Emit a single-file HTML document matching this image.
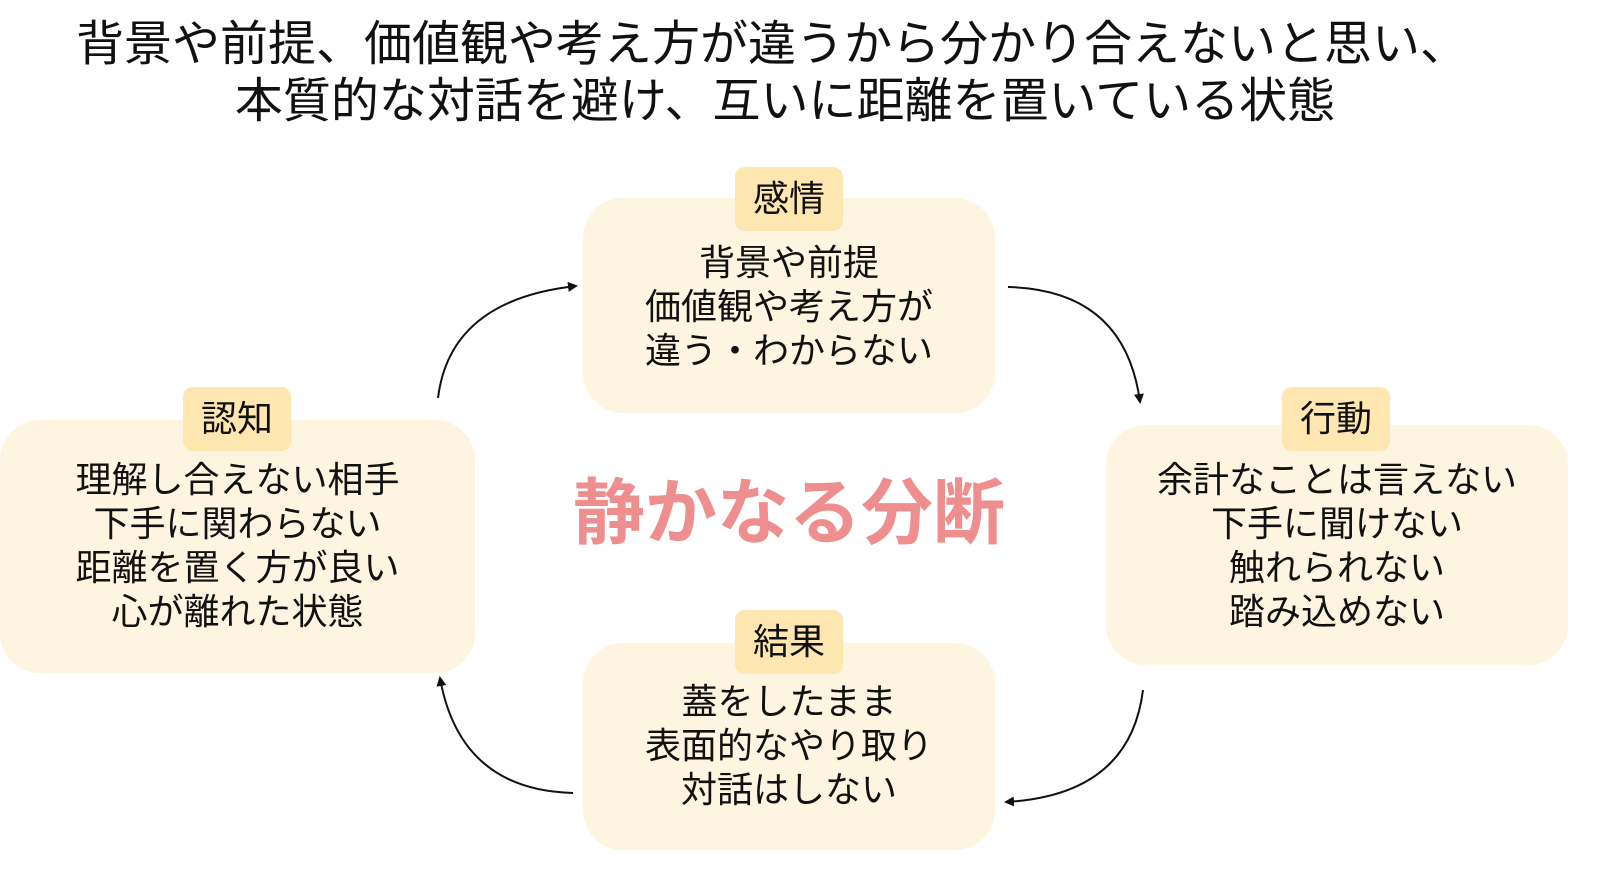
<!DOCTYPE html>
<html><head><meta charset="utf-8"><style>
body{margin:0;width:1606px;height:871px;background:#fff;position:relative;overflow:hidden;font-family:"Liberation Sans","Noto Sans CJK JP",sans-serif;color:#111}
.t{position:absolute;left:0;text-align:center;font-size:48px;line-height:58px;white-space:nowrap}
.box{position:absolute;background:#FEF5E0;border-radius:40px}
.lab{position:absolute;background:#FEE6B0;border-radius:10px;font-size:36px;text-align:center;line-height:64px}
.tx{position:absolute;text-align:center;font-size:36px;line-height:44px;white-space:nowrap}
</style></head><body>
<div class="t" style="top:16px;width:1544px">背景や前提、価値観や考え方が違うから分かり合えないと思い、</div>
<div class="t" style="top:73px;width:1570px">本質的な対話を避け、互いに距離を置いている状態</div>

<div class="box" style="left:583px;top:198px;width:412px;height:215px"></div>
<div class="lab" style="left:735px;top:167px;width:108px;height:64px">感情</div>
<div class="tx" style="left:583px;top:241px;width:412px">背景や前提<br>価値観や考え方が<br>違う・わからない</div>

<div class="box" style="left:0px;top:420px;width:475px;height:253px"></div>
<div class="lab" style="left:183px;top:387px;width:108px;height:64px">認知</div>
<div class="tx" style="left:0px;top:458px;width:475px">理解し合えない相手<br>下手に関わらない<br>距離を置く方が良い<br>心が離れた状態</div>

<div class="box" style="left:1106px;top:425px;width:462px;height:240px"></div>
<div class="lab" style="left:1282px;top:387px;width:108px;height:64px">行動</div>
<div class="tx" style="left:1106px;top:458px;width:462px">余計なことは言えない<br>下手に聞けない<br>触れられない<br>踏み込めない</div>

<div class="box" style="left:583px;top:643px;width:412px;height:207px"></div>
<div class="lab" style="left:735px;top:610px;width:108px;height:64px">結果</div>
<div class="tx" style="left:583px;top:680px;width:412px">蓋をしたまま<br>表面的なやり取り<br>対話はしない</div>

<div style="position:absolute;left:489px;top:474px;width:600px;text-align:center;font-size:72px;font-weight:bold;color:#EE8E8E;line-height:80px;white-space:nowrap">静かなる分断</div>

<svg width="1606" height="871" style="position:absolute;left:0;top:0">
<defs><marker id="a" markerWidth="10" markerHeight="10" refX="8" refY="5" orient="auto" markerUnits="userSpaceOnUse"><path d="M0,0 L10,5 L0,10 z" fill="#111"/></marker></defs>
<g fill="none" stroke="#111" stroke-width="2" marker-end="url(#a)">
<path d="M438,398 Q450,300 576,286"/>
<path d="M1008,287 Q1125,290 1140,402"/>
<path d="M1143,690 Q1130,795 1006,802"/>
<path d="M573,793 Q460,790 440,678"/>
</g></svg>
</body></html>
